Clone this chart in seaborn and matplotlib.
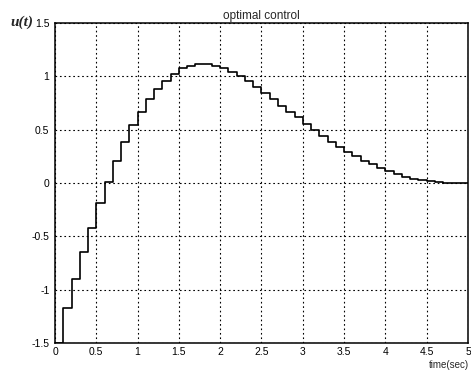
import matplotlib
matplotlib.use("Agg")
import matplotlib.pyplot as plt
import numpy as np
import pandas as pd
import seaborn as sns

# Piecewise-constant control, one value per 0.1 s sample interval
t_start = [round(0.1 * k, 1) for k in range(50)]
u_values = [
    -1.50, -1.17, -0.90, -0.65, -0.42, -0.19, 0.01, 0.21, 0.38, 0.54,
    0.67, 0.79, 0.88, 0.96, 1.02, 1.075, 1.10, 1.115, 1.115, 1.10,
    1.075, 1.04, 1.00, 0.96, 0.90, 0.84, 0.785, 0.725, 0.67, 0.615,
    0.55, 0.50, 0.44, 0.38, 0.34, 0.295, 0.255, 0.21, 0.175, 0.145,
    0.11, 0.085, 0.06, 0.04, 0.025, 0.015, 0.008, 0.004, 0.001, 0.0,
]
t_end = 5.0

x_ticks = [0, 0.5, 1, 1.5, 2, 2.5, 3, 3.5, 4, 4.5, 5]
x_tick_labels = ["0", "0.5", "1", "1.5", "2", "2.5", "3", "3.5", "4", "4.5", "5"]
y_ticks = [-1.5, -1, -0.5, 0, 0.5, 1, 1.5]
y_tick_labels = ["-1.5", "-1", "-0.5", "0", "0.5", "1", "1.5"]

# hold the last sample until the end of the horizon
df = pd.DataFrame({"t": t_start + [t_end], "u": u_values + [u_values[-1]]})

sns.set_style("white")
plt.rcParams["font.family"] = ["Liberation Sans", "DejaVu Sans"]

fig = plt.figure(figsize=(4.71, 3.74), dpi=100)
ax = fig.add_axes([0.1168, 0.0829, 0.8768, 0.8556])

sns.lineplot(data=df, x="t", y="u", ax=ax, color="black", linewidth=1.2,
             drawstyle="steps-post", estimator=None, sort=False)

ax.set_xlim(0, 5)
ax.set_ylim(-1.5, 1.5)
ax.set_xticks(x_ticks)
ax.set_xticklabels(x_tick_labels)
ax.set_yticks(y_ticks)
ax.set_yticklabels(y_tick_labels)
ax.tick_params(direction="in", length=3, labelsize=7.5, colors="black")
ax.tick_params(axis="x", pad=3)
ax.tick_params(axis="y", pad=4)
ax.grid(True, color="black", linestyle=(0, (1.5, 2.5)), linewidth=0.8)
for s in ax.spines.values():
    s.set_color("black")
    s.set_linewidth(1.1)
ax.set_xlabel("")
ax.set_ylabel("")
ax.set_title("optimal control", fontsize=8.5, pad=3)

fig.text(10 / 471, 1 - 22 / 374, "u(t)", fontsize=11, style="italic",
         weight="bold", family=["Liberation Serif", "DejaVu Serif"],
         va="center", ha="left")
fig.text(469 / 471, 1 - 365 / 374, "time(sec)", fontsize=7,
         va="center", ha="right")

fig.savefig("out.png", dpi=100)
